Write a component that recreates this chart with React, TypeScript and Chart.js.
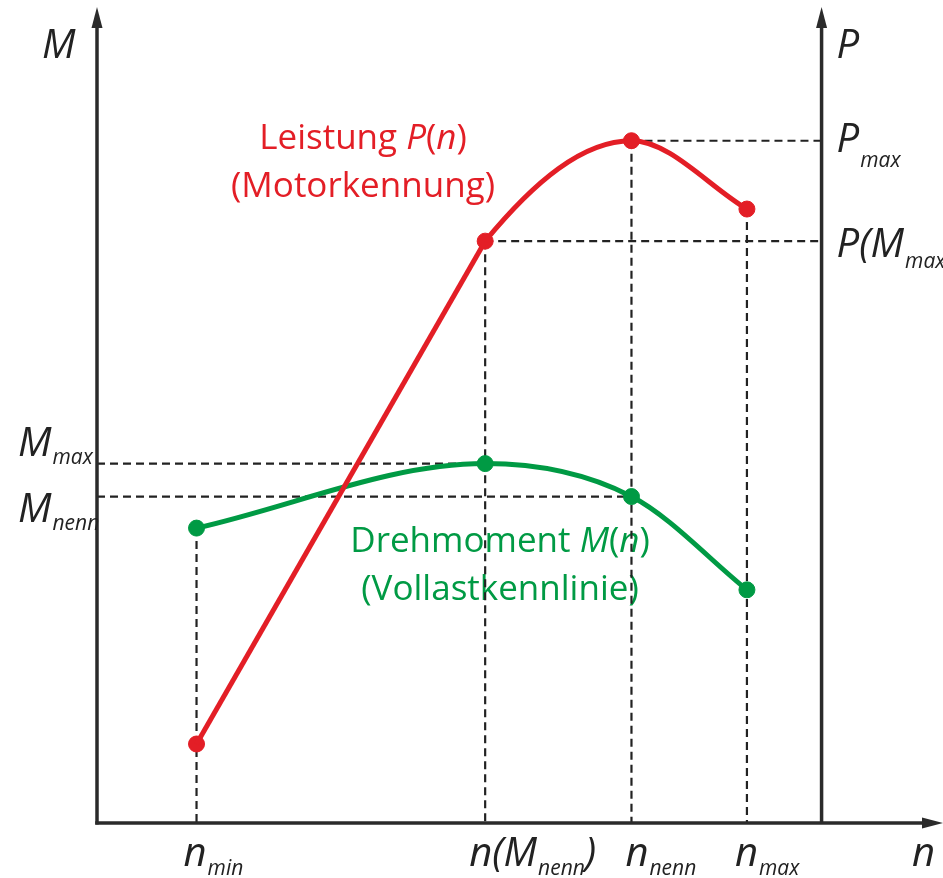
import { useEffect, useRef } from "react";
import { Chart, registerables } from "chart.js";

Chart.register(...registerables);

// ---- data (speed n in 1/min, torque M in Nm, power P in kW) ----
const speedPoints = [1000, 3900, 5370, 6530];
const torqueValues = [107.5, 131, 119, 85];
const powerValues = [9.6, 70.7, 82.9, 74.6];

// tick labels: [main, subscript, tail]
const speedTickLabels = [
  ["n", "min", ""],
  ["n(M", "nenn", ")"],
  ["n", "nenn", ""],
  ["n", "max", ""],
];
const torqueTickLabels = [
  ["M", "max", ""],
  ["M", "nenn", ""],
];
const torqueTickIndex = [1, 2];
const powerTickLabels = [
  ["P", "max", ""],
  ["P(M", "max", ")"],
];
const powerTickIndex = [2, 1];
const axisTitles = ["M", "P", "n"];

const nAxisMax = 8500;
const mAxisMax = 300;
const pAxisMax = 100;
const pAxisAtSpeed = 7280;

// captions: [text, italic]
const powerCaption: [string, boolean][][] = [
  [["Leistung ", false], ["P", true], ["(", false], ["n", true], [")", false]],
  [["(Motorkennung)", false]],
];
const torqueCaption: [string, boolean][][] = [
  [["Drehmoment ", false], ["M", true], ["(", false], ["n", true], [")", false]],
  [["(Vollastkennlinie)", false]],
];

const RED = "#e31e26";
const GREEN = "#009a44";
const AXIS = "#2b2b2b";
const DASH = "#222222";
const FAMILY = '"Open Sans", "DejaVu Sans", sans-serif';

function drawRich(ctx: CanvasRenderingContext2D, parts: [string, boolean][], cx: number, base: number, size: number, color: string) {
  let total = 0;
  const widths = parts.map(([t, it]) => {
    ctx.font = `${it ? "italic " : ""}${size}px ${FAMILY}`;
    const w = ctx.measureText(t).width;
    total += w;
    return w;
  });
  let x = cx - total / 2;
  ctx.fillStyle = color;
  parts.forEach(([t, it], i) => {
    ctx.font = `${it ? "italic " : ""}${size}px ${FAMILY}`;
    ctx.fillText(t, x, base);
    x += widths[i];
  });
}

function drawLabel(ctx: CanvasRenderingContext2D, x: number, base: number, lab: string[], subDy: number) {
  ctx.fillStyle = "#222";
  ctx.font = `italic 40px ${FAMILY}`;
  ctx.fillText(lab[0], x, base);
  x += ctx.measureText(lab[0]).width + 1;
  if (lab[1]) {
    ctx.font = `italic 21px ${FAMILY}`;
    ctx.fillText(lab[1], x, base + subDy);
    x += ctx.measureText(lab[1]).width;
  }
  if (lab[2]) {
    ctx.font = `italic 40px ${FAMILY}`;
    ctx.fillText(lab[2], x, base);
  }
}

function arrowUp(ctx: CanvasRenderingContext2D, x: number, yBottom: number, yTip: number) {
  ctx.beginPath();
  ctx.moveTo(x, yBottom);
  ctx.lineTo(x, yTip + 18);
  ctx.stroke();
  ctx.beginPath();
  ctx.moveTo(x, yTip);
  ctx.lineTo(x - 5.5, yTip + 21);
  ctx.lineTo(x + 5.5, yTip + 21);
  ctx.closePath();
  ctx.fill();
}

const decorPlugin = {
  id: "decor",
  beforeDatasetsDraw(chart: any) {
    const ctx: CanvasRenderingContext2D = chart.ctx;
    const xs = chart.scales.x;
    const ym = chart.scales.y;
    const yp = chart.scales.y1;
    const x0 = xs.getPixelForValue(0);
    const yBase = ym.getPixelForValue(0);
    const xP = xs.getPixelForValue(pAxisAtSpeed);
    ctx.save();
    ctx.textBaseline = "alphabetic";
    ctx.textAlign = "left";

    // captions
    powerCaption.forEach((line, i) => drawRich(ctx, line, 363, 149 + i * 48, 35, RED));
    torqueCaption.forEach((line, i) => drawRich(ctx, line, 500, 552 + i * 48, 35, GREEN));

    // dashed guide lines
    ctx.setLineDash([8, 5]);
    ctx.lineWidth = 2.2;
    ctx.strokeStyle = DASH;
    speedPoints.forEach((n, i) => {
      const px = xs.getPixelForValue(n);
      const top = Math.min(ym.getPixelForValue(torqueValues[i]), yp.getPixelForValue(powerValues[i]));
      ctx.beginPath();
      ctx.moveTo(px, top);
      ctx.lineTo(px, yBase);
      ctx.stroke();
    });
    torqueTickIndex.forEach((idx) => {
      const py = ym.getPixelForValue(torqueValues[idx]);
      ctx.beginPath();
      ctx.moveTo(x0, py);
      ctx.lineTo(xs.getPixelForValue(speedPoints[idx]), py);
      ctx.stroke();
    });
    powerTickIndex.forEach((idx) => {
      const py = yp.getPixelForValue(powerValues[idx]);
      ctx.beginPath();
      ctx.moveTo(xs.getPixelForValue(speedPoints[idx]), py);
      ctx.lineTo(xP, py);
      ctx.stroke();
    });
    ctx.setLineDash([]);

    // axes
    ctx.strokeStyle = AXIS;
    ctx.fillStyle = AXIS;
    ctx.lineWidth = 3.5;
    arrowUp(ctx, x0, yBase + 1.5, 7);
    arrowUp(ctx, xP, yBase, 7);
    const xRight = chart.width;
    ctx.beginPath();
    ctx.moveTo(x0 - 1.75, yBase);
    ctx.lineTo(xRight - 18, yBase);
    ctx.stroke();
    ctx.beginPath();
    ctx.moveTo(xRight, yBase);
    ctx.lineTo(xRight - 21, yBase - 5.5);
    ctx.lineTo(xRight - 21, yBase + 5.5);
    ctx.closePath();
    ctx.fill();

    // axis titles
    drawLabel(ctx, x0 - 55, 58, [axisTitles[0], "", ""], 0);
    drawLabel(ctx, xP + 15, 58, [axisTitles[1], "", ""], 0);
    drawLabel(ctx, 912, yBase + 43, [axisTitles[2], "", ""], 0);

    // speed tick labels
    const dxs = [-13, -16, -6, -12];
    speedTickLabels.forEach((lab, i) => {
      drawLabel(ctx, xs.getPixelForValue(speedPoints[i]) + dxs[i], yBase + 43, lab, 9);
    });
    // torque tick labels
    const mDy = [-8, 25];
    torqueTickLabels.forEach((lab, i) => {
      const py = ym.getPixelForValue(torqueValues[torqueTickIndex[i]]);
      drawLabel(ctx, 18, py + mDy[i], lab, 8);
    });
    // power tick labels
    const pDy = [11, 16];
    const pSub = [15, 11];
    powerTickLabels.forEach((lab, i) => {
      const py = yp.getPixelForValue(powerValues[powerTickIndex[i]]);
      drawLabel(ctx, xP + 15, py + pDy[i], lab, pSub[i]);
    });
    ctx.restore();
  },
};

export default function App() {
  const ref = useRef<HTMLCanvasElement>(null);
  useEffect(() => {
    let chart: Chart | null = null;
    let cancelled = false;
    const make = () => {
      if (cancelled || !ref.current) return;
      const pts = (vals: number[]) => speedPoints.map((n, i) => ({ x: n, y: vals[i] }));
      chart = new Chart(ref.current, {
        type: "line",
        data: {
          datasets: [
            {
              data: pts(powerValues).slice(0, 2),
              yAxisID: "y1",
              borderColor: RED,
              borderWidth: 5,
              pointRadius: 0,
              tension: 0,
            },
            {
              data: pts(powerValues),
              yAxisID: "y1",
              borderColor: RED,
              borderWidth: 5,
              cubicInterpolationMode: "monotone",
              pointRadius: 8,
              pointBackgroundColor: RED,
              pointBorderColor: RED,
              pointBorderWidth: 1,
              segment: {
                borderColor: (c: any) => (c.p0DataIndex === 0 ? "rgba(0,0,0,0)" : RED),
              },
            },
            {
              data: pts(torqueValues),
              yAxisID: "y",
              borderColor: GREEN,
              borderWidth: 5,
              cubicInterpolationMode: "monotone",
              pointRadius: 8,
              pointBackgroundColor: GREEN,
              pointBorderColor: GREEN,
              pointBorderWidth: 1,
            },
          ] as any,
        },
        options: {
          responsive: false,
          animation: false,
          devicePixelRatio: 1,
          events: [],
          layout: { autoPadding: false, padding: { left: 97, right: 0, top: 0, bottom: 55 } },
          plugins: { legend: { display: false }, tooltip: { enabled: false } },
          scales: {
            x: { type: "linear", min: 0, max: nAxisMax, display: false },
            y: { type: "linear", min: 0, max: mAxisMax, display: false },
            y1: { type: "linear", min: 0, max: pAxisMax, display: false, position: "right" },
          },
        } as any,
        plugins: [decorPlugin],
      });
    };
    const fonts = (document as any).fonts;
    if (fonts && fonts.load) {
      Promise.all([
        fonts.load(`35px "Open Sans"`),
        fonts.load(`italic 40px "Open Sans"`),
        fonts.load(`italic 21px "Open Sans"`),
      ]).then(make, make);
    } else make();
    return () => {
      cancelled = true;
      if (chart) chart.destroy();
    };
  }, []);
  return (
    <div style={{ position: "absolute", left: 0, top: 0, width: 943, height: 878, background: "#fff" }}>
      <canvas ref={ref} width={943} height={878} style={{ display: "block", width: 943, height: 878 }} />
    </div>
  );
}
